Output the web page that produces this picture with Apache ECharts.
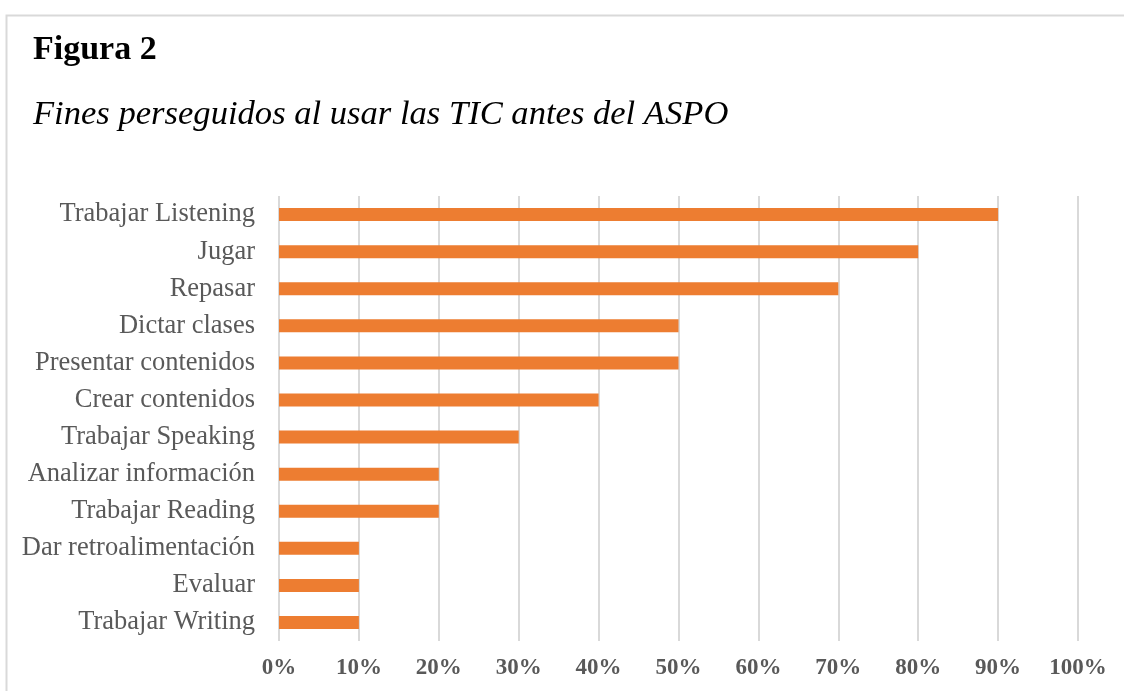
<!DOCTYPE html>
<html>
<head>
<meta charset="utf-8">
<script src="https://cdn.jsdelivr.net/npm/echarts@6/dist/echarts.min.js"></script>
<style>
  html, body { margin: 0; padding: 0; background: #fff; }
  #chart { width: 1124px; height: 691px; }
</style>
</head>
<body>
<div id="chart"></div>
<script>
// categories from bottom to top (as drawn on the y axis)
var categories = [
  'Trabajar Writing',
  'Evaluar',
  'Dar retroalimentación',
  'Trabajar Reading',
  'Analizar información',
  'Trabajar Speaking',
  'Crear contenidos',
  'Presentar contenidos',
  'Dictar clases',
  'Repasar',
  'Jugar',
  'Trabajar Listening'
];
var values = [10, 10, 10, 20, 20, 30, 40, 50, 50, 70, 80, 90];

var serif = '"Liberation Serif", "DejaVu Serif", serif';
var myChart = echarts.init(document.getElementById('chart'));
myChart.setOption({
  backgroundColor: '#fff',
  animation: false,
  graphic: [
    {
      type: 'rect',
      left: 4, top: 13,
      shape: { width: 1200, height: 800 },
      style: { fill: 'none', stroke: '#d9d9d9', lineWidth: 2 },
      silent: true
    },
    {
      type: 'text',
      left: 33, top: 33,
      style: { text: 'Figura 2', font: 'bold 34px ' + serif, fill: '#000' }
    },
    {
      type: 'text',
      left: 33, top: 97,
      style: { text: 'Fines perseguidos al usar las TIC antes del ASPO', font: 'italic 34.6px ' + serif, fill: '#000' }
    }
  ],
  grid: {
    left: 279,
    right: 46,
    top: 196,
    bottom: 50
  },
  xAxis: {
    type: 'value',
    min: 0,
    max: 100,
    interval: 10,
    axisLine: { show: false },
    axisTick: { show: false },
    splitLine: { lineStyle: { color: '#d9d9d9', width: 2 } },
    axisLabel: {
      formatter: '{value}%',
      fontFamily: serif,
      fontWeight: 'bold',
      fontSize: 23,
      color: '#595959',
      margin: 16
    }
  },
  yAxis: {
    type: 'category',
    data: categories,
    axisLine: { show: false },
    axisTick: { show: false },
    axisLabel: {
      fontFamily: serif,
      fontSize: 26.5,
      color: '#595959',
      margin: 24
    }
  },
  series: [{
    type: 'bar',
    data: values,
    barWidth: 13,
    itemStyle: { color: '#ED7D31' }
  }]
});
</script>
</body>
</html>
